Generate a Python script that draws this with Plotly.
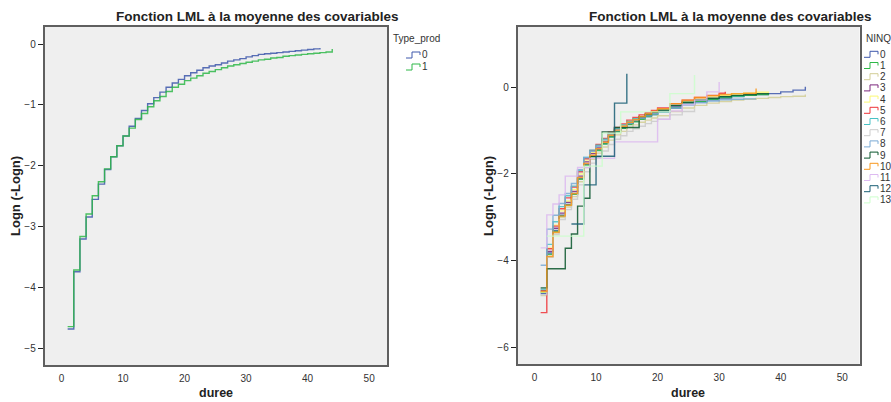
import plotly.graph_objects as go

W, H = 891, 402

# ---- Left panel: Type_prod ----
type_prod_labels = ["0", "1"]
tp0_x = list(range(1, 43))
tp0_y = [-4.68, -3.74, -3.20, -2.84, -2.55, -2.30, -2.06, -1.85, -1.67, -1.51,
         -1.35, -1.22, -1.09, -0.98, -0.88, -0.79, -0.71, -0.64, -0.58, -0.52,
         -0.47, -0.43, -0.39, -0.36, -0.34, -0.31, -0.28, -0.26, -0.24, -0.21,
         -0.19, -0.17, -0.16, -0.15, -0.14, -0.13, -0.12, -0.11, -0.10, -0.09,
         -0.08, -0.065]
tp1_x = list(range(1, 45)) + [44]
tp1_y = [-4.64, -3.71, -3.16, -2.79, -2.49, -2.26, -2.05, -1.85, -1.67, -1.51,
         -1.38, -1.24, -1.14, -1.03, -0.93, -0.86, -0.78, -0.71, -0.66, -0.60,
         -0.56, -0.52, -0.48, -0.45, -0.42, -0.39, -0.36, -0.34, -0.32, -0.30,
         -0.28, -0.26, -0.25, -0.23, -0.22, -0.20, -0.19, -0.18, -0.17, -0.16,
         -0.15, -0.14, -0.13, -0.13, -0.08]
tp_colors = ["#3E58AC", "#2EB848"]

# ---- Right panel: NINQ ----
G = list(range(1, 21)) + [22, 24, 26, 28, 30, 32, 34, 36, 38, 40, 42, 44]
ninq_labels = [str(i) for i in range(14)]
ninq_x = [
    G + [44],
    G[:29],
    G + [44],
    G[:26],
    G[:29],
    list(range(1, 21)) + [22, 24, 26, 28, 30, 31],
    G[:27],
    G[:23],
    G[:28],
    [1, 2, 5, 6, 7, 8, 9, 11, 13, 17, 18, 19, 20, 22, 24, 26, 28, 30, 32, 34, 36, 38],
    G[:27] + [36],
    [1, 2, 3, 4, 5, 7, 9, 13, 20, 22, 24, 26, 28, 30],
    [6, 8, 10, 13, 15],
    [2, 8, 11, 14, 22, 26],
]
ninq_y = [
    [-4.75, -3.82, -3.30, -2.95, -2.70, -2.45, -2.10, -1.78, -1.58, -1.44,
     -1.30, -1.14, -1.02, -0.94, -0.85, -0.79, -0.73, -0.68, -0.63, -0.58,
     -0.48, -0.40, -0.34, -0.29, -0.25, -0.22, -0.19, -0.17, -0.15, -0.11,
     -0.07, -0.04, 0.01],
    [-4.72, -3.85, -3.32, -2.97, -2.72, -2.47, -2.12, -1.80, -1.60, -1.46,
     -1.31, -1.15, -1.03, -0.95, -0.86, -0.80, -0.74, -0.68, -0.63, -0.58,
     -0.47, -0.39, -0.33, -0.28, -0.24, -0.21, -0.19, -0.17, -0.15],
    [-4.80, -3.90, -3.36, -3.00, -2.76, -2.52, -2.18, -1.85, -1.66, -1.52,
     -1.38, -1.22, -1.10, -1.02, -0.93, -0.87, -0.81, -0.76, -0.71, -0.66,
     -0.56, -0.48, -0.42, -0.37, -0.33, -0.30, -0.28, -0.26, -0.24, -0.22,
     -0.21, -0.20, -0.17],
    [-4.68, -3.78, -3.25, -2.90, -2.65, -2.40, -2.05, -1.72, -1.53, -1.40,
     -1.26, -1.10, -0.98, -0.90, -0.81, -0.75, -0.69, -0.64, -0.59, -0.54,
     -0.44, -0.36, -0.30, -0.25, -0.21, -0.18],
    [-4.72, -3.70, -3.18, -2.85, -2.62, -2.36, -2.00, -1.68, -1.50, -1.36,
     -1.22, -1.07, -0.96, -0.88, -0.79, -0.73, -0.67, -0.62, -0.57, -0.52,
     -0.42, -0.34, -0.28, -0.23, -0.19, -0.16, -0.14, -0.12, -0.10],
    [-5.19, -3.72, -3.20, -2.80, -2.55, -2.30, -1.95, -1.65, -1.46, -1.32,
     -1.18, -1.04, -0.93, -0.85, -0.76, -0.70, -0.64, -0.59, -0.54, -0.48,
     -0.38, -0.30, -0.24, -0.19, -0.14, -0.11],
    [-4.65, -3.62, -3.10, -2.75, -2.50, -2.28, -1.92, -1.62, -1.45, -1.34,
     -1.20, -1.06, -0.95, -0.87, -0.79, -0.73, -0.68, -0.63, -0.58, -0.53,
     -0.43, -0.36, -0.30, -0.26, -0.22, -0.20, -0.18],
    [-4.78, -3.92, -3.40, -3.05, -2.82, -2.58, -2.25, -1.95, -1.75, -1.60,
     -1.47, -1.32, -1.20, -1.12, -1.02, -0.96, -0.90, -0.84, -0.79, -0.74,
     -0.64, -0.56, -0.50],
    [-4.10, -3.27, -2.95, -2.68, -2.45, -2.22, -1.90, -1.62, -1.48, -1.36,
     -1.22, -1.08, -0.97, -0.90, -0.82, -0.76, -0.71, -0.66, -0.62, -0.58,
     -0.48, -0.41, -0.36, -0.32, -0.29, -0.28, -0.27, -0.27],
    [-4.62, -4.18, -3.71, -3.38, -2.74, -2.56, -1.60, -1.03, -0.93, -0.68,
     -0.63, -0.58, -0.53, -0.42, -0.35, -0.30, -0.26, -0.22, -0.19, -0.17,
     -0.15, -0.14],
    [-4.70, -3.90, -3.34, -2.97, -2.72, -2.45, -2.08, -1.76, -1.57, -1.42,
     -1.27, -1.11, -0.99, -0.90, -0.81, -0.75, -0.68, -0.62, -0.56, -0.50,
     -0.38, -0.30, -0.24, -0.20, -0.17, -0.15, -0.14, -0.03],
    [-3.70, -2.94, -2.69, -2.48, -2.05, -1.85, -1.64, -1.26, -0.74, -0.55,
     -0.40, -0.30, -0.11, 0.12],
    [-3.15, -2.25, -1.59, -0.37, 0.31],
    [-3.43, -1.82, -1.06, -0.57, -0.15, 0.28],
]
ninq_colors = ["#3E58AC", "#2EB848", "#D3CE97", "#7C287D", "#FBF873", "#EF3338",
               "#48C2C5", "#CCCCCC", "#7AAAD5", "#0A562C", "#F8981D", "#DDBAF1",
               "#1A5F76", "#CCFFCC"]

FONT = "Liberation Sans, Arial, sans-serif"


def px(x):
    return x / W


def py(y):
    return 1 - y / H


fig = go.Figure()

for xs, ys, c in zip([tp0_x, tp1_x], [tp0_y, tp1_y], tp_colors):
    fig.add_trace(go.Scatter(x=xs, y=ys, mode="lines", line=dict(color=c, width=1.4, shape="hv"),
                             opacity=0.85, xaxis="x", yaxis="y", showlegend=False, hoverinfo="skip"))

for xs, ys, c in zip(ninq_x, ninq_y, ninq_colors):
    fig.add_trace(go.Scatter(x=xs, y=ys, mode="lines", line=dict(color=c, width=1.4, shape="hv"),
                             opacity=0.85, xaxis="x2", yaxis="y2", showlegend=False, hoverinfo="skip"))

axis_common = dict(showgrid=False, zeroline=False, showline=True, mirror=True,
                   linecolor="#5f5f5f", linewidth=1.5,
                   tickfont=dict(family=FONT, size=10, color="#333"))

xticks = [0, 10, 20, 30, 40, 50]
fig.update_layout(
    width=W, height=H,
    margin=dict(l=0, r=0, t=0, b=0),
    paper_bgcolor="white", plot_bgcolor="#EFEFEF",
    xaxis=dict(domain=[px(44.5), px(387)], range=[-2.76, 52.9], tickvals=xticks,
               ticks="outside", ticklen=3, tickcolor="rgba(0,0,0,0)", anchor="y", **axis_common),
    yaxis=dict(domain=[py(365), py(27)], range=[-5.27, 0.28], tickvals=[0, -1, -2, -3, -4, -5],
               ticks="outside", ticklen=5, tickcolor="#222", anchor="x", **axis_common),
    xaxis2=dict(domain=[px(517.5), px(859.5)], range=[-2.76, 52.8], tickvals=xticks,
                ticks="outside", ticklen=3, tickcolor="rgba(0,0,0,0)", anchor="y2", **axis_common),
    yaxis2=dict(domain=[py(364.3), py(26.7)], range=[-6.38, 1.39], tickvals=[0, -2, -4, -6],
                ticks="outside", ticklen=5, tickcolor="#222", anchor="x2", **axis_common),
)

title_txt = "Fonction LML à la moyenne des covariables"
ann = []
shapes = []


def text(x, y, s, size=10, bold=False, xanchor="center", angle=0, color="#222"):
    ann.append(dict(x=px(x), y=py(y), xref="paper", yref="paper", text=f"<b>{s}</b>" if bold else s,
                    showarrow=False, xanchor=xanchor, yanchor="middle", textangle=angle,
                    borderpad=0, font=dict(family=FONT, size=size, color=color)))


text(257, 17, title_txt, size=13.5, bold=True)
text(730, 16, title_txt, size=13.5, bold=True)
text(15, 196, "Logn (-Logn)", size=13, bold=True, angle=-90)
text(488, 196, "Logn (-Logn)", size=13, bold=True, angle=-90)
text(216, 393, "duree", size=12.5, bold=True)
text(688, 393, "duree", size=12.5, bold=True)


def glyph(x0, yc, color):
    path = (f"M {px(x0)},{py(yc + 3)} L {px(x0 + 6)},{py(yc + 3)} L {px(x0 + 6)},{py(yc - 3)} "
            f"L {px(x0 + 14)},{py(yc - 3)} L {px(x0 + 14)},{py(yc)}")
    shapes.append(dict(type="path", path=path, xref="paper", yref="paper",
                       line=dict(color=color, width=1)))


# legend: Type_prod
text(392, 39, "Type_prod", size=10, xanchor="left", color="#333")
for i, (lab, c) in enumerate(zip(type_prod_labels, tp_colors)):
    yc = 55 + 12 * i
    glyph(406, yc, c)
    text(421, yc, lab, size=10, xanchor="left", color="#333")

# legend: NINQ
text(865, 38, "NINQ", size=10, xanchor="left", color="#333")
for i, (lab, c) in enumerate(zip(ninq_labels, ninq_colors)):
    yc = 54.3 + 11.2 * i
    glyph(864, yc, c)
    text(879, yc, lab, size=10, xanchor="left", color="#333")

fig.update_layout(annotations=ann, shapes=shapes)
fig.write_html("out.html")
